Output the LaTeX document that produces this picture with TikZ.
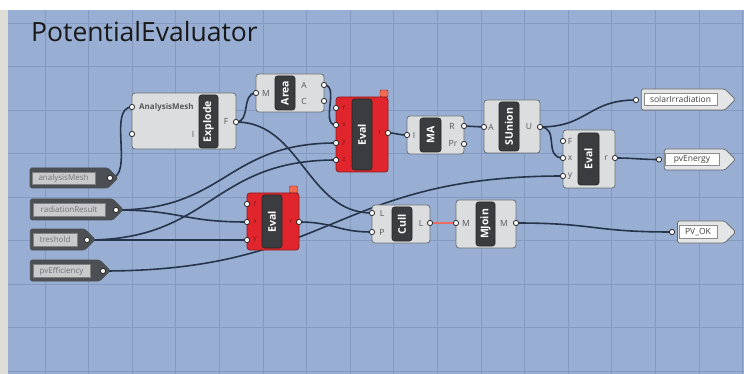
\documentclass[tikz,border=0pt]{standalone}
\usepackage{fontspec}
\setmainfont{Open Sans}
\usetikzlibrary{shapes.symbols}
\definecolor{canvas}{HTML}{98AED3}
\definecolor{gridc}{HTML}{8598C0}
\definecolor{wirec}{HTML}{27354B}
\definecolor{compfill}{HTML}{DCDDDE}
\definecolor{compedge}{HTML}{6B7075}
\definecolor{barfill}{HTML}{3A3C40}
\definecolor{redfill}{HTML}{E0262C}
\definecolor{rededge}{HTML}{8E1B1E}
\definecolor{redlbl}{HTML}{7A1515}
\definecolor{tabc}{HTML}{F26B4F}
\definecolor{paramfill}{HTML}{4C5055}
\definecolor{paraminner}{HTML}{C8CACC}
\definecolor{paramtext}{HTML}{707276}
\definecolor{outfill}{HTML}{E4E5E6}
\definecolor{labelc}{HTML}{55585C}
\definecolor{redwire}{HTML}{F06A60}
\definecolor{leftc}{HTML}{DEDDD8}
\pgfdeclarelayer{bg}
\pgfdeclarelayer{wires}
\pgfsetlayers{bg,wires,main}
\newcommand{\gwire}[4][]{\draw[wire,#1] (#2) .. controls +(#4,0) and +(-#4,0) .. (#3);}
\newcommand{\gripat}[1]{\draw[gripc] (#1) circle[radius=2.6pt];}
\begin{document}
\begin{tikzpicture}[x=1pt,y=-1pt,
  comp/.style={draw=compedge, fill=compfill, line width=0.8pt, rounded corners=3pt, inner sep=0pt},
  redcomp/.style={draw=rededge, fill=redfill, line width=0.8pt, rounded corners=3pt, inner sep=0pt},
  tab/.style={fill=tabc, draw=rededge, line width=0.4pt, rounded corners=1pt, minimum width=8pt, minimum height=7pt, inner sep=0pt},
  bar/.style={fill=barfill, draw=black!85, line width=0.6pt, rounded corners=2.5pt, text=white, font=\bfseries\fontsize{10.5}{11}\selectfont, rotate=90, inner sep=0pt},
  lbl/.style={font=\fontsize{8.5}{9}\selectfont, text=labelc, inner sep=0pt},
  rlbl/.style={font=\fontsize{6.5}{7}\selectfont, text=redlbl, inner sep=0pt},
  param/.style={signal, signal to=east, fill=paramfill, draw=black!70, line width=0.6pt, inner sep=0pt, rounded corners=1.5pt},
  pinner/.style={fill=paraminner, draw=black!50, line width=0.4pt, inner sep=0pt, text=paramtext, font=\fontsize{8}{9}\selectfont},
  outp/.style={signal, signal to=east, fill=outfill, draw=black!60, line width=0.7pt, inner sep=0pt, rounded corners=1.5pt},
  oinner/.style={fill=white, draw=black!45, line width=0.4pt, inner sep=0pt, text=black!75, font=\fontsize{8.5}{9}\selectfont},
  wire/.style={draw=wirec, line width=1.6pt},
  gripc/.style={draw=black!85, fill=white, line width=0.8pt},
  gridline/.style={draw=gridc, line width=0.7pt}]

\useasboundingbox (0,0) rectangle (744,374);

\begin{pgfonlayer}{bg}
  \fill[white] (0,0) rectangle (744,10);
  \fill[leftc] (0,10) rectangle (8,374);
  \fill[canvas] (8,10) rectangle (744,374);
  \foreach \i in {0,...,16} \draw[gridline] ({45+43.6*\i},10) -- ({45+43.6*\i},374);
  \foreach \j in {0,...,8} \draw[gridline] (8,{23+43.5*\j}) -- (744,{23+43.5*\j});
\end{pgfonlayer}

% title
\node[anchor=base west, inner sep=0pt, font=\fontsize{26.5}{30}\selectfont, text=black!90] (title) at (31,42) {PotentialEvaluator};

% ---------------- input params ----------------
\node[param, minimum width=88pt, minimum height=20pt] (pAM) at (69,178) {};
\node[pinner, minimum width=63pt, minimum height=12pt] (pAMt) at (63.5,178) {analysisMesh};
\node[param, minimum width=93pt, minimum height=21pt] (pRR) at (71.5,209.5) {};
\node[pinner, minimum width=72pt, minimum height=13pt] (pRRt) at (69,210) {radiationResult};
\node[param, minimum width=65pt, minimum height=21pt] (pTR) at (57.5,239.5) {};
\node[pinner, minimum width=44pt, minimum height=13pt] (pTRt) at (55,240) {treshold};
\node[param, minimum width=80pt, minimum height=21pt] (pPE) at (65,270.5) {};
\node[pinner, minimum width=57pt, minimum height=13pt] (pPEt) at (61.5,271) {pvEfficiency};

% ---------------- Explode ----------------
\node[comp, minimum width=104pt, minimum height=56pt] (explode) at (184,121) {};
\node[bar, minimum width=53pt, minimum height=19pt] (explodeBar) at (208.5,121.5) {Explode};
\node[lbl, anchor=west, font=\bfseries\fontsize{8}{9}\selectfont] (exL1) at (139,107) {AnalysisMesh};
\node[lbl] (exL2) at (193,134) {I};
\node[lbl] (exL3) at (226,121) {F};

% ---------------- Area ----------------
\node[comp, minimum width=68pt, minimum height=38pt] (area) at (290,93) {};
\node[bar, minimum width=34pt, minimum height=20pt] (areaBar) at (285,93) {Area};
\node[lbl] (arL1) at (266,93) {M};
\node[lbl] (arL2) at (304,85) {A};
\node[lbl] (arL3) at (304,101) {C};

% ---------------- Eval (top, red) ----------------
\node[tab] (ev1tab) at (384,93.5) {};
\node[redcomp, minimum width=52pt, minimum height=75pt] (eval1) at (362,134.5) {};
\node[bar, minimum width=71pt, minimum height=20pt] (eval1Bar) at (362,134.5) {Eval};
\node[rlbl] (e1a) at (344,108) {f};
\node[rlbl] (e1b) at (344,125) {x};
\node[rlbl] (e1c) at (344,143) {y};
\node[rlbl] (e1d) at (344,160) {z};
\node[rlbl] (e1r) at (380,133) {r};

% ---------------- MA ----------------
\node[comp, minimum width=57pt, minimum height=38pt] (ma) at (435.5,135) {};
\node[bar, minimum width=34pt, minimum height=21pt] (maBar) at (430.5,135) {MA};
\node[lbl] (maL1) at (414,135) {I};
\node[lbl] (maL2) at (452,126) {R};
\node[lbl] (maL3) at (453,143) {Pr};

% ---------------- SUnion ----------------
\node[comp, minimum width=56pt, minimum height=53pt] (sunion) at (512,126.5) {};
\node[bar, minimum width=49pt, minimum height=20pt] (sunionBar) at (509,126.5) {SUnion};
\node[lbl] (suL1) at (491,127) {A};
\node[lbl] (suL2) at (529,127) {U};

% ---------------- Eval (right) ----------------
\node[comp, minimum width=52pt, minimum height=58pt] (eval3) at (589,159) {};
\node[bar, minimum width=52pt, minimum height=21pt] (eval3Bar) at (588.5,159) {Eval};
\node[lbl] (e3a) at (570,141) {F};
\node[lbl] (e3b) at (570,158) {x};
\node[lbl] (e3c) at (570,176) {y};
\node[lbl] (e3r) at (606,158) {r};

% ---------------- Eval (bottom, red) ----------------
\node[tab] (ev2tab) at (293.5,189.5) {};
\node[redcomp, minimum width=52pt, minimum height=57pt] (eval2) at (273,221.5) {};
\node[bar, minimum width=53pt, minimum height=20pt] (eval2Bar) at (272,221.5) {Eval};
\node[rlbl] (e2a) at (255,204) {f};
\node[rlbl] (e2b) at (255,222) {x};
\node[rlbl] (e2c) at (255,240) {y};
\node[rlbl] (e2r) at (291,222) {r};

% ---------------- Cull ----------------
\node[comp, minimum width=58pt, minimum height=38pt] (cull) at (401,224) {};
\node[bar, minimum width=34pt, minimum height=20pt] (cullBar) at (402,224) {Cull};
\node[lbl] (cuL1) at (382,213) {L};
\node[lbl] (cuL2) at (382,232) {P};
\node[lbl] (cuL3) at (421,223) {L};

% ---------------- MJoin ----------------
\node[comp, minimum width=60pt, minimum height=48pt] (mjoin) at (486,224) {};
\node[bar, minimum width=44pt, minimum height=19pt] (mjoinBar) at (485.5,224) {MJoin};
\node[lbl] (mjL1) at (466,223) {M};
\node[lbl] (mjL2) at (504,223) {M};

% ---------------- output panels ----------------
\node[outp, minimum width=94pt, minimum height=21pt] (oSI) at (683,99.5) {};
\node[oinner, minimum width=73pt, minimum height=12pt] (oSIt) at (680.5,99.5) {solarIrradiation};
\node[outp, minimum width=71pt, minimum height=21pt] (oPE) at (694.5,159.5) {};
\node[oinner, minimum width=54pt, minimum height=12pt] (oPEt) at (692,159.5) {pvEnergy};
\node[outp, minimum width=58pt, minimum height=22pt] (oOK) at (701,232) {};
\node[oinner, minimum width=38pt, minimum height=13pt] (oOKt) at (698,232) {PV\_OK};

% ---------------- grip coordinates ----------------
\coordinate (gAM) at (110,178);
\coordinate (gRR) at (116,210);
\coordinate (gTR) at (87,240);
\coordinate (gPE) at (103,271);
\coordinate (exI1) at (132,107);
\coordinate (exI2) at (132,134);
\coordinate (exF) at (236,122);
\coordinate (arM) at (256,93);
\coordinate (arA) at (324,85);
\coordinate (arC) at (324,101);
\coordinate (e1i1) at (336,108);
\coordinate (e1i2) at (336,125);
\coordinate (e1i3) at (336,143);
\coordinate (e1i4) at (336,160);
\coordinate (e1o) at (388,133);
\coordinate (maI) at (407,135);
\coordinate (maR) at (464,126);
\coordinate (maP) at (464,144);
\coordinate (suA) at (484,127);
\coordinate (suU) at (540,127);
\coordinate (e3F) at (563,141);
\coordinate (e3x) at (563,158);
\coordinate (e3y) at (563,176);
\coordinate (e3r) at (615,158);
\coordinate (e2i1) at (247,204);
\coordinate (e2i2) at (247,222);
\coordinate (e2i3) at (247,240);
\coordinate (e2o) at (299,222);
\coordinate (cuLi) at (372,213);
\coordinate (cuPi) at (372,232);
\coordinate (cuLo) at (430,223);
\coordinate (mjI) at (456,223);
\coordinate (mjO) at (516,223);
\coordinate (gSI) at (636,100);
\coordinate (gPEn) at (659,159.5);
\coordinate (gOK) at (672,232);

% grips
\foreach \g in {gAM,gRR,gTR,gPE,exI1,exI2,exF,arM,arA,arC,e1i1,e1i2,e1i3,e1i4,e1o,maI,maR,maP,suA,suU,e3F,e3x,e3y,e3r,e2i1,e2i2,e2i3,e2o,cuLi,cuPi,cuLo,mjI,mjO,gSI,gPEn,gOK} {\gripat{\g}}

% ---------------- wires ----------------
\begin{pgfonlayer}{wires}
  \gwire{gAM}{exI1}{25}
  \gwire{exF}{arM}{15}
  \gwire{exF}{cuLi}{65}
  \gwire{arA}{e1i2}{16}
  \gwire{gRR}{e1i3}{110}
  \gwire{gTR}{e1i4}{125}
  \gwire{gRR}{e2i2}{65}
  \gwire{gTR}{e2i3}{40}
  \gwire{e1o}{maI}{10}
  \gwire{maR}{suA}{10}
  \gwire{suU}{gSI}{48}
  \gwire{suU}{e3x}{20}
  \gwire{e3r}{gPEn}{20}
  \gwire{gPE}{e3y}{230}
  \gwire{e2o}{cuPi}{35}
  \draw[draw=redwire, line width=1.4pt] (cuLo) -- (mjI);
  \gwire{mjO}{gOK}{80}
\end{pgfonlayer}
\end{tikzpicture}
\end{document}
